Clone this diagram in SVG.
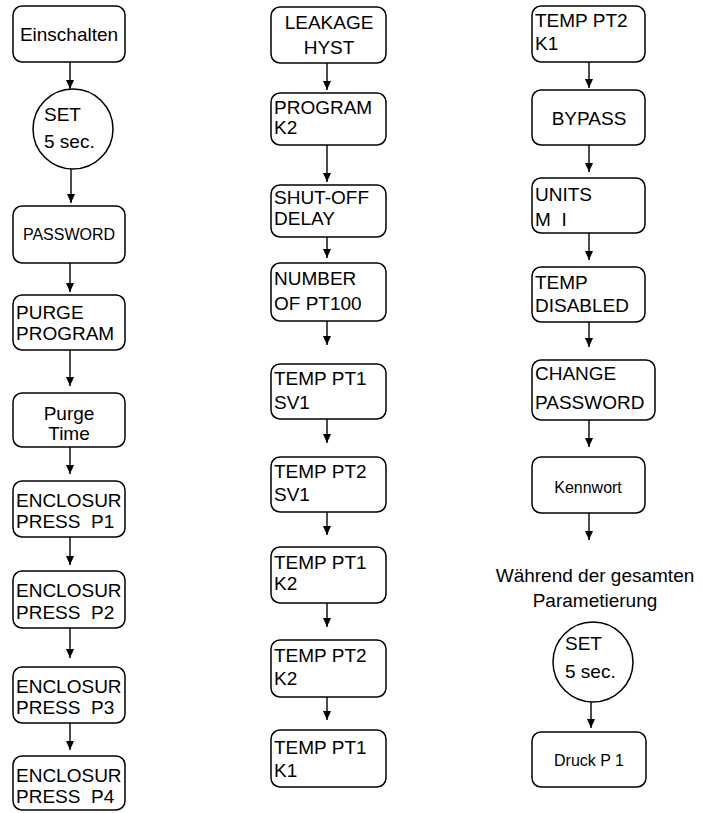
<svg xmlns="http://www.w3.org/2000/svg" width="702" height="813" viewBox="0 0 702 813">
<defs>
<marker id="ah" markerUnits="userSpaceOnUse" markerWidth="9" markerHeight="9" refX="9" refY="4" orient="auto">
<path d="M0,0 L9,4 L0,8 z" fill="#000"/>
</marker>
<style>
.b{fill:#fff;stroke:#000;stroke-width:1.5}
text{font-family:"Liberation Sans",Arial,sans-serif;font-size:19px;fill:#000;white-space:pre}
.s{font-size:16px}
.c{text-anchor:middle}
.a{stroke:#000;stroke-width:1.4;fill:none;marker-end:url(#ah)}
</style>
</defs>
<rect width="702" height="813" fill="#fff"/>
<g id="connectors">
<line class="a" x1="70" y1="62" x2="70" y2="89"/>
<line class="a" x1="71" y1="169" x2="71" y2="203"/>
<line class="a" x1="70" y1="263" x2="70" y2="292"/>
<line class="a" x1="70" y1="350" x2="70" y2="386"/>
<line class="a" x1="70" y1="447" x2="70" y2="474"/>
<line class="a" x1="70" y1="537" x2="70" y2="565"/>
<line class="a" x1="70" y1="628" x2="70" y2="658"/>
<line class="a" x1="70" y1="723" x2="70" y2="750"/>
<line class="a" x1="327" y1="63" x2="327" y2="90"/>
<line class="a" x1="327" y1="145" x2="327" y2="182"/>
<line class="a" x1="327" y1="237" x2="327" y2="258"/>
<line class="a" x1="327" y1="321" x2="327" y2="345"/>
<line class="a" x1="327" y1="419" x2="327" y2="443"/>
<line class="a" x1="327" y1="512" x2="327" y2="535"/>
<line class="a" x1="327" y1="603" x2="327" y2="627"/>
<line class="a" x1="327" y1="697" x2="327" y2="720"/>
<line class="a" x1="589" y1="62" x2="589" y2="88"/>
<line class="a" x1="589" y1="145" x2="589" y2="172"/>
<line class="a" x1="589" y1="233" x2="589" y2="260"/>
<line class="a" x1="589" y1="322" x2="589" y2="347"/>
<line class="a" x1="589" y1="420" x2="589" y2="447"/>
<line class="a" x1="589" y1="513" x2="589" y2="540"/>
<line class="a" x1="591" y1="702" x2="591" y2="728"/>
</g>
<g id="einschalten"><rect class="b" x="13" y="6" width="112" height="56" rx="9"/><text class="c" x="69" y="41">Einschalten</text></g>
<g id="set1"><circle class="b" cx="73" cy="129" r="40"/><text x="44" y="121">SET</text><text x="44" y="148">5 sec.</text></g>
<g id="password"><rect class="b" x="13" y="206" width="112" height="57" rx="9"/><text class="c s" x="69" y="240">PASSWORD</text></g>
<g id="purge-program"><rect class="b" x="13" y="295" width="112" height="55" rx="9"/><text x="16" y="319">PURGE</text><text x="16" y="340">PROGRAM</text></g>
<g id="purge-time"><rect class="b" x="13" y="393" width="112" height="54" rx="9"/><text class="c" x="69" y="420">Purge</text><text class="c" x="69" y="440">Time</text></g>
<g id="p1"><rect class="b" x="13" y="481" width="112" height="56" rx="9"/><text x="16" y="507">ENCLOSUR</text><text x="16" y="528">PRESS  P1</text></g>
<g id="p2"><rect class="b" x="13" y="571" width="112" height="57" rx="9"/><text x="16" y="597">ENCLOSUR</text><text x="16" y="619">PRESS  P2</text></g>
<g id="p3"><rect class="b" x="13" y="667" width="112" height="56" rx="9"/><text x="16" y="693">ENCLOSUR</text><text x="16" y="714">PRESS  P3</text></g>
<g id="p4"><rect class="b" x="13" y="756" width="112" height="54" rx="9"/><text x="16" y="782">ENCLOSUR</text><text x="16" y="803">PRESS  P4</text></g>
<g id="leakage"><rect class="b" x="271" y="7" width="115" height="56" rx="9"/><text class="c" x="329" y="29">LEAKAGE</text><text class="c" x="329" y="54">HYST</text></g>
<g id="program-k2"><rect class="b" x="271" y="93" width="115" height="52" rx="9"/><text x="274" y="114">PROGRAM</text><text x="274" y="134">K2</text></g>
<g id="shutoff"><rect class="b" x="271" y="185" width="115" height="52" rx="9"/><text x="274" y="204">SHUT-OFF</text><text x="274" y="225">DELAY</text></g>
<g id="number"><rect class="b" x="271" y="263" width="115" height="58" rx="9"/><text x="274" y="285">NUMBER</text><text x="274" y="310">OF PT100</text></g>
<g id="pt1-sv1"><rect class="b" x="271" y="364" width="115" height="55" rx="9"/><text x="274" y="385">TEMP PT1</text><text x="274" y="409">SV1</text></g>
<g id="pt2-sv1"><rect class="b" x="271" y="457" width="115" height="55" rx="9"/><text x="274" y="478">TEMP PT2</text><text x="274" y="501">SV1</text></g>
<g id="pt1-k2"><rect class="b" x="271" y="547" width="115" height="56" rx="9"/><text x="274" y="569">TEMP PT1</text><text x="274" y="590">K2</text></g>
<g id="pt2-k2"><rect class="b" x="271" y="640" width="115" height="57" rx="9"/><text x="274" y="662">TEMP PT2</text><text x="274" y="685">K2</text></g>
<g id="pt1-k1"><rect class="b" x="271" y="730" width="115" height="57" rx="9"/><text x="274" y="754">TEMP PT1</text><text x="274" y="777">K1</text></g>
<g id="pt2-k1"><rect class="b" x="532" y="6" width="113" height="56" rx="9"/><text x="535" y="27">TEMP PT2</text><text x="535" y="50">K1</text></g>
<g id="bypass"><rect class="b" x="532" y="90" width="113" height="55" rx="9"/><text class="c" x="589" y="125">BYPASS</text></g>
<g id="units"><rect class="b" x="532" y="178" width="113" height="55" rx="9"/><text x="535" y="201">UNITS</text><text x="535" y="226">M  I</text></g>
<g id="temp-disabled"><rect class="b" x="532" y="267" width="113" height="55" rx="9"/><text x="535" y="289">TEMP</text><text x="535" y="312">DISABLED</text></g>
<g id="change-password"><rect class="b" x="532" y="360" width="123" height="60" rx="9"/><text x="535" y="380">CHANGE</text><text x="535" y="409">PASSWORD</text></g>
<g id="kennwort"><rect class="b" x="532" y="457" width="113" height="56" rx="9"/><text class="c s" x="588" y="493">Kennwort</text></g>
<g id="note"><text class="c" x="595" y="582">Während der gesamten</text><text class="c" x="595" y="607">Parametierung</text></g>
<g id="set2"><circle class="b" cx="593" cy="662" r="40"/><text x="565" y="650">SET</text><text x="565" y="678">5 sec.</text></g>
<g id="druck"><rect class="b" x="532" y="732" width="114" height="55" rx="9"/><text class="c s" x="589" y="766">Druck P 1</text></g>
</svg>
